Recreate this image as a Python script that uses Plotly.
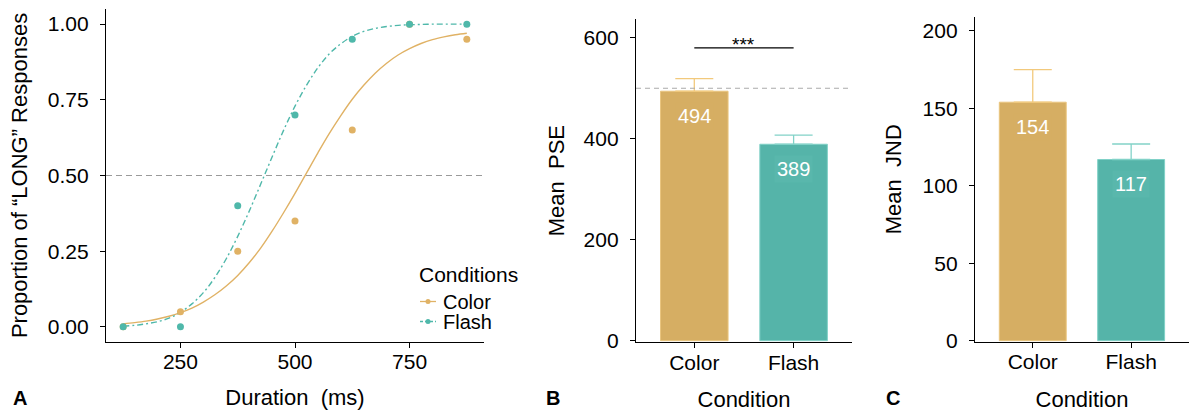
import plotly.graph_objects as go

# ---------------- data ----------------
durations = [125, 250, 375, 500, 625, 750, 875]
color_prop = [0.00, 0.05, 0.25, 0.35, 0.65, 1.00, 0.95]
flash_prop = [0.00, 0.00, 0.40, 0.70, 0.95, 1.00, 1.00]

# fitted psychometric curves
curve_x = [125, 150, 175, 200, 225, 250, 275, 300, 325, 350, 375, 400, 425, 450, 475,
           500, 525, 550, 575, 600, 625, 650, 675, 700, 725, 750, 775, 800, 825, 850, 875]
color_curve = [0.010, 0.014, 0.019, 0.026, 0.035, 0.047, 0.062, 0.082, 0.106, 0.135,
               0.170, 0.212, 0.260, 0.316, 0.377, 0.441, 0.508, 0.575, 0.639, 0.698,
               0.752, 0.798, 0.838, 0.871, 0.898, 0.919, 0.936, 0.949, 0.958, 0.965, 0.970]
flash_curve = [0.003, 0.005, 0.010, 0.017, 0.029, 0.048, 0.076, 0.113, 0.163, 0.225,
               0.299, 0.382, 0.471, 0.561, 0.649, 0.729, 0.798, 0.856, 0.902, 0.935,
               0.960, 0.976, 0.986, 0.992, 0.996, 0.998, 0.999, 1.000, 1.000, 1.000, 1.000]

conditions = ["Color", "Flash"]
pse_mean = [494, 389]
pse_se = [25, 18]
jnd_mean = [154, 117]
jnd_se = [21, 10]

x_ticks_a = [250, 500, 750]
y_ticks_a = [0.0, 0.25, 0.5, 0.75, 1.0]
y_ticks_b = [0, 200, 400, 600]
y_ticks_c = [0, 50, 100, 150, 200]

# ---------------- styles ----------------
W, H = 1189, 412
FONT = "Liberation Sans, Arial, Helvetica, sans-serif"
ORANGE = "#E0B265"
TEAL = "#4FB8AA"
BAR_FILL = ["#D6AE63", "#55B4A9"]
BAR_EDGE = ["#EAC57E", "#80D1C7"]
ERR_COL = ["#F2C97C", "#82D2C8"]
LABEL_BG = ["#D6AE63", "#59B7AC"]
CURVE_DASH = ["solid", "6px,3px,2px,3px"]

fig = go.Figure()

# Panel A: fitted curves + observed proportions
for name, curve, col, dash in (("Color", color_curve, ORANGE, CURVE_DASH[0]),
                               ("Flash", flash_curve, TEAL, CURVE_DASH[1])):
    fig.add_trace(go.Scatter(x=curve_x, y=curve, mode="lines", name=name,
                             line=dict(color=col, width=1.4, shape="spline", dash=dash),
                             showlegend=False, xaxis="x", yaxis="y", hoverinfo="skip"))
for name, pts, col in (("Color", color_prop, ORANGE), ("Flash", flash_prop, TEAL)):
    fig.add_trace(go.Scatter(x=durations, y=pts, mode="markers", name=name,
                             marker=dict(color=col, size=7), showlegend=False,
                             xaxis="x", yaxis="y"))

# Panels B & C: bars with upper error bars
for ax, means, ses in (("2", pse_mean, pse_se), ("3", jnd_mean, jnd_se)):
    for i, c in enumerate(conditions):
        fig.add_trace(go.Bar(x=[c], y=[means[i]], width=0.68, name=c,
                             marker=dict(color=BAR_FILL[i], line=dict(color=BAR_EDGE[i], width=1)),
                             error_y=dict(type="data", symmetric=False, array=[ses[i]], arrayminus=[0],
                                          color=ERR_COL[i], thickness=1.3, width=19),
                             showlegend=False, xaxis="x" + ax, yaxis="y" + ax))

annotations = []
for ax, means in (("2", pse_mean), ("3", jnd_mean)):
    for i, c in enumerate(conditions):
        annotations.append(dict(x=c, y=means[i], xref="x" + ax, yref="y" + ax, text=str(means[i]),
                                showarrow=False, yanchor="middle", yshift=-25,
                                font=dict(family=FONT, size=20, color="white"),
                                bgcolor=LABEL_BG[i], borderpad=2))
annotations.append(dict(x=0.5, y=580, xref="x2", yref="y2", text="***", showarrow=False,
                        yanchor="bottom", yshift=-9, font=dict(family=FONT, size=19, color="black")))
for txt, xp in (("A", 20), ("B", 553), ("C", 893)):
    annotations.append(dict(x=xp / W, y=0, xref="paper", yref="paper", text="<b>%s</b>" % txt,
                            showarrow=False, xanchor="center", yanchor="bottom", yshift=1,
                            font=dict(family=FONT, size=20, color="black")))

# legend (drawn as a key)
leg_font = dict(family=FONT, size=20, color="black")
annotations.append(dict(x=417 / W, y=1 - 274 / H, xref="paper", yref="paper", text="Conditions",
                        showarrow=False, xanchor="left", yanchor="middle",
                        font=dict(family=FONT, size=21, color="black")))
shapes = []
for i, (name, col, dash) in enumerate(zip(conditions, [ORANGE, TEAL], ["solid", "3px,2px"])):
    yc = 301.5 + 20 * i
    annotations.append(dict(x=441 / W, y=1 - yc / H, xref="paper", yref="paper", text=name,
                            showarrow=False, xanchor="left", yanchor="middle", font=leg_font))
    shapes.append(dict(type="line", xref="paper", yref="paper", x0=420 / W, x1=436 / W,
                       y0=1 - yc / H, y1=1 - yc / H, line=dict(color=col, width=1.3, dash=dash)))
    shapes.append(dict(type="circle", xref="paper", yref="paper", x0=425.5 / W, x1=430.5 / W,
                       y0=1 - (yc + 2.5) / H, y1=1 - (yc - 2.5) / H,
                       fillcolor=col, line=dict(color=col, width=0)))

shapes += [
    dict(type="line", xref="x domain", yref="y", x0=0, x1=1, y0=0.5, y1=0.5,
         line=dict(color="#9a9a9a", width=1.2, dash="6px,4px"), layer="below"),
    dict(type="line", xref="x2 domain", yref="y2", x0=0, x1=1, y0=500, y1=500,
         line=dict(color="#ababab", width=1.1, dash="5px,4px"), layer="above"),
    dict(type="line", xref="x2", yref="y2", x0=0, x1=1, y0=580, y1=580,
         line=dict(color="black", width=1.2)),
]

axis_common = dict(showline=True, linecolor="black", linewidth=1.3, ticks="outside", ticklen=5,
                   tickcolor="black", tickwidth=1.2, showgrid=False, zeroline=False, automargin=False,
                   tickfont=dict(family=FONT, size=21, color="black"))
x_common = dict(axis_common, ticklabelstandoff=-4)
y_common = dict(axis_common, ticklabelstandoff=7)
title_font = dict(family=FONT, size=22, color="black")

fig.update_layout(
    width=W, height=H, margin=dict(l=0, r=0, t=0, b=0, autoexpand=False), autosize=False,
    paper_bgcolor="white", plot_bgcolor="white",
    font=dict(family=FONT, color="black"),
    barmode="overlay", showlegend=False,
    xaxis=dict(domain=[106 / W, 484 / W], range=[87.5, 912.5], tickvals=x_ticks_a,
               title=dict(text="Duration  (ms)", font=title_font, standoff=17), anchor="y", **x_common),
    yaxis=dict(domain=[1 - 342 / H, 1 - 9 / H], range=[-0.05, 1.05], tickvals=y_ticks_a,
               tickformat=".2f", title=dict(text="Proportion of “LONG” Responses", font=title_font, standoff=14),
               anchor="x", **y_common),
    xaxis2=dict(domain=[636 / W, 852 / W], range=[-0.587, 1.588], type="category",
                title=dict(text="Condition", font=title_font, standoff=19), anchor="y2", **x_common),
    yaxis2=dict(domain=[1 - 342.3 / H, 1 - 19 / H], range=[-3.2, 637], tickvals=y_ticks_b,
                title=dict(text="Mean  PSE", font=title_font, standoff=12), anchor="x2", **y_common),
    xaxis3=dict(domain=[975 / W, 1.0], range=[-0.587, 1.588], type="category",
                title=dict(text="Condition", font=title_font, standoff=19), anchor="y3", **x_common),
    yaxis3=dict(domain=[1 - 341.7 / H, 1 - 16.7 / H], range=[-0.65, 209.2], tickvals=y_ticks_c,
                title=dict(text="Mean  JND", font=title_font, standoff=14), anchor="x3", **y_common),
    annotations=annotations, shapes=shapes,
)

fig.write_html("out.html", config={"responsive": False})
